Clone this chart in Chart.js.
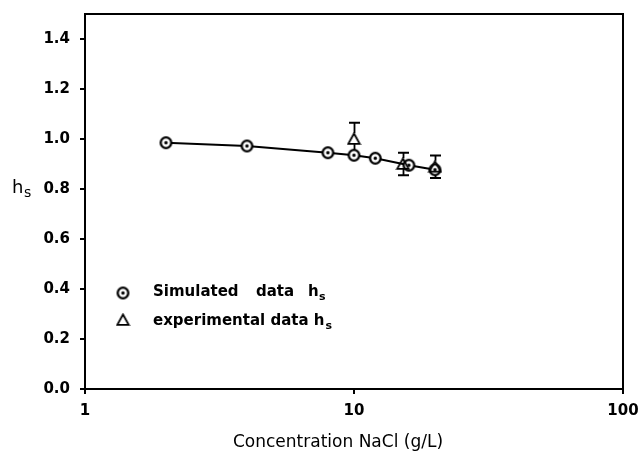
<!DOCTYPE html>
<html>
<head>
<meta charset="utf-8">
<script src="https://cdn.jsdelivr.net/npm/chart.js@4.4.0/dist/chart.umd.min.js"></script>
<style>
html, body { margin: 0; padding: 0; background: #fff; }
#wrap { width: 639px; height: 459px; }
</style>
</head>
<body>
<div id="wrap"><canvas id="chart"></canvas></div>
<script>
// data
var concSim = [2, 4, 8, 10, 12, 16, 20];
var hsSim = [0.985, 0.972, 0.945, 0.935, 0.923, 0.895, 0.877];
var concExp = [10, 15.2, 20];
var hsExp = [1.0, 0.90, 0.889];
var hsExpErr = [0.065, 0.045, 0.045];
var xTicks = [1, 10, 100];
var yTicks = [0, 0.2, 0.4, 0.6, 0.8, 1.0, 1.2, 1.4];

var tickFont = { family: 'DejaVu Sans', weight: 'bold', size: 15 };

// circle with a dot in the middle
function circleDot() {
    var c = document.createElement('canvas');
    c.width = 15; c.height = 15;
    var g = c.getContext('2d');
    g.beginPath();
    g.arc(7.5, 7.5, 5.3, 0, 2 * Math.PI);
    g.fillStyle = '#fff';
    g.fill();
    g.lineWidth = 2.3;
    g.strokeStyle = '#000';
    g.stroke();
    g.beginPath();
    g.arc(7.5, 7.5, 1.7, 0, 2 * Math.PI);
    g.fillStyle = '#000';
    g.fill();
    return c;
}

// open triangle
function openTriangle() {
    var c = document.createElement('canvas');
    c.width = 15; c.height = 14;
    var g = c.getContext('2d');
    g.beginPath();
    g.moveTo(7.5, 1.5);
    g.lineTo(13.2, 11.8);
    g.lineTo(1.8, 11.8);
    g.closePath();
    g.lineWidth = 1.8;
    g.strokeStyle = '#000';
    g.stroke();
    return c;
}

var circleImg = circleDot();
var triImg = openTriangle();

var simPoints = concSim.map(function(x, i) { return { x: x, y: hsSim[i] }; });
var expPoints = concExp.map(function(x, i) { return { x: x, y: hsExp[i] }; });

// error bars, frame, axis titles and legend
var extras = {
    id: 'extras',
    beforeDatasetsDraw: function(chart) {
        var ctx = chart.ctx;
        var xs = chart.scales.x, ys = chart.scales.y;
        ctx.save();
        ctx.strokeStyle = '#000';
        ctx.lineWidth = 1.8;
        concExp.forEach(function(x, i) {
            var px = Math.round(xs.getPixelForValue(x)) + 0.5;
            var yTop = ys.getPixelForValue(hsExp[i] + hsExpErr[i]);
            var yBot = ys.getPixelForValue(hsExp[i] - hsExpErr[i]);
            var yc = ys.getPixelForValue(hsExp[i]);
            ctx.beginPath();
            ctx.moveTo(px, yTop); ctx.lineTo(px, yc - 6);
            ctx.moveTo(px, yc + 5); ctx.lineTo(px, yBot);
            ctx.moveTo(px - 5.5, yTop); ctx.lineTo(px + 5.5, yTop);
            ctx.moveTo(px - 5.5, yBot); ctx.lineTo(px + 5.5, yBot);
            ctx.stroke();
        });
        ctx.restore();
    },
    afterDraw: function(chart) {
        var ctx = chart.ctx;
        var a = chart.chartArea;
        ctx.save();
        // top and right border
        ctx.strokeStyle = '#000';
        ctx.lineWidth = 2;
        ctx.beginPath();
        ctx.moveTo(a.left, a.top);
        ctx.lineTo(a.right, a.top);
        ctx.lineTo(a.right, a.bottom);
        ctx.stroke();

        ctx.fillStyle = '#000';
        ctx.textBaseline = 'alphabetic';
        // x title
        ctx.font = '17px "DejaVu Sans"';
        ctx.textAlign = 'center';
        ctx.fillText('Concentration NaCl (g/L)', 338, 447);
        // y title h_s
        ctx.textAlign = 'left';
        ctx.font = '18px "DejaVu Sans"';
        ctx.fillText('h', 12, 193);
        ctx.font = '14px "DejaVu Sans"';
        ctx.fillText('s', 24, 197);

        // legend
        ctx.drawImage(circleImg, 123 - 7.5, 293 - 7.5);
        ctx.drawImage(triImg, 123 - 7.5, 320 - 7);
        ctx.font = 'bold 15px "DejaVu Sans"';
        ctx.fillText('Simulated', 153, 296);
        ctx.fillText('data', 256, 296);
        ctx.fillText('h', 308, 296);
        ctx.font = 'bold 11px "DejaVu Sans"';
        ctx.fillText('s', 319, 300);
        ctx.font = 'bold 15px "DejaVu Sans"';
        ctx.fillText('experimental data h', 153, 325);
        var w = ctx.measureText('experimental data h').width;
        ctx.font = 'bold 11px "DejaVu Sans"';
        ctx.fillText('s', 153 + w + 1, 329);
        ctx.restore();
    }
};

var chart = new Chart(document.getElementById('chart'), {
    type: 'scatter',
    data: {
        datasets: [{
            label: 'experimental data hs',
            data: expPoints,
            pointStyle: triImg,
            pointRadius: 7,
            pointHoverRadius: 7
        }, {
            label: 'Simulated data hs',
            data: simPoints,
            showLine: true,
            borderColor: '#000',
            borderWidth: 2.2,
            pointStyle: circleImg,
            pointRadius: 7,
            pointHoverRadius: 7
        }]
    },
    options: {
        responsive: true,
        maintainAspectRatio: false,
        animation: false,
        events: [],
        layout: { padding: { top: 14, right: 16, left: 0, bottom: 0 } },
        plugins: {
            legend: { display: false },
            tooltip: { enabled: false }
        },
        scales: {
            x: {
                type: 'logarithmic',
                min: 1,
                max: 100,
                afterBuildTicks: function(axis) {
                    axis.ticks = xTicks.map(function(v) { return { value: v }; });
                },
                afterFit: function(axis) {
                    axis.height = 70;
                    axis.paddingLeft = 0;
                    axis.paddingRight = 0;
                },
                ticks: {
                    color: '#000',
                    font: tickFont,
                    padding: 8,
                    maxRotation: 0,
                    autoSkip: false,
                    callback: function(v) { return String(v); }
                },
                grid: { drawOnChartArea: false, drawTicks: true, tickLength: 5, color: '#000', lineWidth: 2 },
                border: { display: true, color: '#000', width: 2 }
            },
            y: {
                min: 0,
                max: 1.5,
                afterBuildTicks: function(axis) {
                    axis.ticks = yTicks.map(function(v) { return { value: v }; });
                },
                afterFit: function(axis) {
                    axis.width = 85;
                    axis.paddingTop = 0;
                    axis.paddingBottom = 0;
                },
                ticks: {
                    color: '#000',
                    font: tickFont,
                    padding: 10,
                    callback: function(v) { return Number(v).toFixed(1); }
                },
                grid: { drawOnChartArea: false, drawTicks: true, tickLength: 5, color: '#000', lineWidth: 2 },
                border: { display: true, color: '#000', width: 2 }
            }
        }
    },
    plugins: [extras]
});
</script>
</body>
</html>
